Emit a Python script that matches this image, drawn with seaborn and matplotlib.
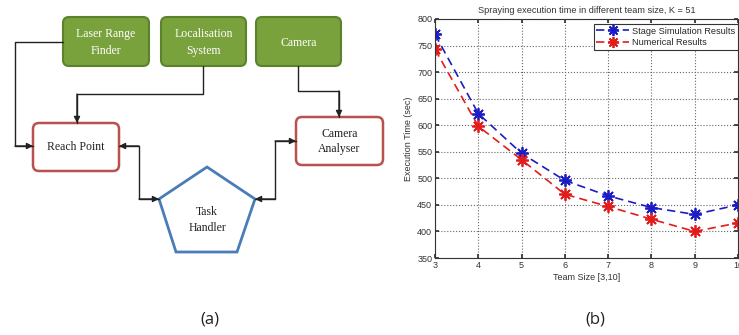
import numpy as np
import pandas as pd
import matplotlib
matplotlib.use('Agg')
import matplotlib.pyplot as plt
import seaborn as sns
from matplotlib.patches import FancyBboxPatch, Polygon

# data of panel (b)
team_size = [3, 4, 5, 6, 7, 8, 9, 10]
stage_sim = [771, 622, 547, 496, 467, 445, 432, 450]
numerical = [743, 598, 535, 470, 447, 423, 400, 416]
series_names = ['Stage Simulation Results', 'Numerical Results']
series_colors = ['#1c1cc4', '#e21c1c']
y_ticks = [350, 400, 450, 500, 550, 600, 650, 700, 750, 800]

# labels of panel (a)
sensor_labels = ['Laser Range\nFinder', 'Localisation\nSystem', 'Camera']
module_labels = ['Reach Point', 'Camera\nAnalyser']
handler_label = 'Task\nHandler'

sns.set_theme(style='white')
plt.rcParams['font.family'] = ['Liberation Sans', 'DejaVu Sans']

fig = plt.figure(figsize=(7.39, 3.35), dpi=100)

# ---- panel (a): block diagram, drawn in pixel coordinates
ax_d = fig.add_axes([0, 0, 1, 1])
ax_d.set_xlim(0, 739)
ax_d.set_ylim(335, 0)
ax_d.axis('off')

serif = ['Liberation Serif', 'DejaVu Serif']


def box(x0, y0, x1, y1, face, edge, lw, r=6):
    p = FancyBboxPatch((x0 + r, y0 + r), x1 - x0 - 2 * r, y1 - y0 - 2 * r,
                       boxstyle=f'round,pad={r}', fc=face, ec=edge, lw=lw)
    ax_d.add_patch(p)


def path(pts, head_start=False, head_end=True):
    xs, ys = zip(*pts)
    ax_d.plot(xs, ys, color='#222222', lw=1)
    ap = dict(arrowstyle='-|>', color='#222222', lw=1, mutation_scale=9,
              shrinkA=0, shrinkB=0)
    if head_end:
        ax_d.annotate('', xy=pts[-1], xytext=pts[-2], arrowprops=ap)
    if head_start:
        ax_d.annotate('', xy=pts[0], xytext=pts[1], arrowprops=ap)


green_boxes = [(63, 17, 149, 66), (161, 17, 246, 66), (256, 17, 341, 66)]
for (x0, y0, x1, y1), lab in zip(green_boxes, sensor_labels):
    box(x0, y0, x1, y1, '#79a13c', '#5d822c', 1.5)
    ax_d.text((x0 + x1) / 2, (y0 + y1) / 2 + 1, lab, color='white', ha='center',
              va='center', family=serif, fontsize=8.5, linespacing=1.5)

red_boxes = [(33, 123, 119, 171), (296, 117, 383, 165)]
for (x0, y0, x1, y1), lab in zip(red_boxes, module_labels):
    box(x0, y0, x1, y1, 'white', '#b9514c', 1.8)
    ax_d.text((x0 + x1) / 2, (y0 + y1) / 2 + 0.5, lab, color='#222222', ha='center',
              va='center', family=serif, fontsize=8.5, linespacing=1.4)

pent = Polygon([(207, 167), (255, 199), (237, 252), (176, 252), (159, 199)],
               closed=True, fc='white', ec='#4a7db8', lw=2)
ax_d.add_patch(pent)
ax_d.text(207, 220, handler_label, ha='center', va='center', family=serif,
          fontsize=8.5, color='#222222', linespacing=1.5)

path([(63, 42), (15, 42), (15, 146), (33, 146)])
path([(203, 66), (203, 94), (77, 94), (77, 123)])
path([(298, 66), (298, 91), (339, 91), (339, 117)])
path([(119, 146), (139, 146), (139, 199), (159, 199)], head_start=True)
path([(255, 199), (275, 199), (275, 141), (296, 141)], head_start=True)

ax_d.text(210, 320, '(a)', ha='center', va='center', fontsize=12,
          family=['Open Sans', 'DejaVu Sans'], color='#222222')
ax_d.text(595, 320, '(b)', ha='center', va='center', fontsize=12,
          family=['Open Sans', 'DejaVu Sans'], color='#222222')

# ---- panel (b): execution time chart
ax = fig.add_axes([435 / 739, 1 - 258 / 335, 303 / 739, 239 / 335])
df = pd.DataFrame({
    'Team Size': team_size * 2,
    'Time': stage_sim + numerical,
    'Series': [series_names[0]] * len(team_size) + [series_names[1]] * len(team_size),
})
asterisk = (8, 2, 0)
sns.lineplot(data=df, x='Team Size', y='Time', hue='Series', palette=series_colors,
             marker=asterisk, markersize=9, linewidth=1.2,
             ax=ax, legend=False)
for ln, c in zip(ax.get_lines(), series_colors):
    ln.set_linestyle((0, (5, 3)))
    ln.set_markeredgecolor(c)
    ln.set_markeredgewidth(1.3)

ax.set_xlim(3, 10)
ax.set_ylim(350, 800)
ax.set_xticks(team_size)
ax.set_yticks(y_ticks)
ax.grid(True, linestyle=':', color='#666666', linewidth=0.8)
for s in ax.spines.values():
    s.set_color('#333333')
    s.set_linewidth(0.8)
ax.tick_params(direction='in', length=3, labelsize=6.5, colors='#333333',
               bottom=True, left=True, top=True, right=True, pad=2)
ax.set_xlabel('Team Size [3,10]', fontsize=6.5, color='#333333', labelpad=2)
ax.set_ylabel('Execution Time (sec)', fontsize=6.5, color='#333333', labelpad=3)
ax.set_title('Spraying execution time in different team size, K = 51',
             fontsize=6.6, color='#333333', pad=4)

handles = [plt.Line2D([], [], color=c, marker=asterisk, markersize=8,
                      markeredgewidth=1.3, linestyle=(0, (5, 3)), linewidth=1.2)
           for c in series_colors]
leg = ax.legend(handles, series_names, loc='upper right', fontsize=6.6,
                frameon=True, fancybox=False, edgecolor='#333333', framealpha=1,
                handlelength=3.6, borderpad=0.3, labelspacing=0.25,
                handletextpad=0.3, bbox_to_anchor=(1.0, 0.98), borderaxespad=0)
leg.get_frame().set_linewidth(0.8)

fig.savefig('out.png', dpi=100)
